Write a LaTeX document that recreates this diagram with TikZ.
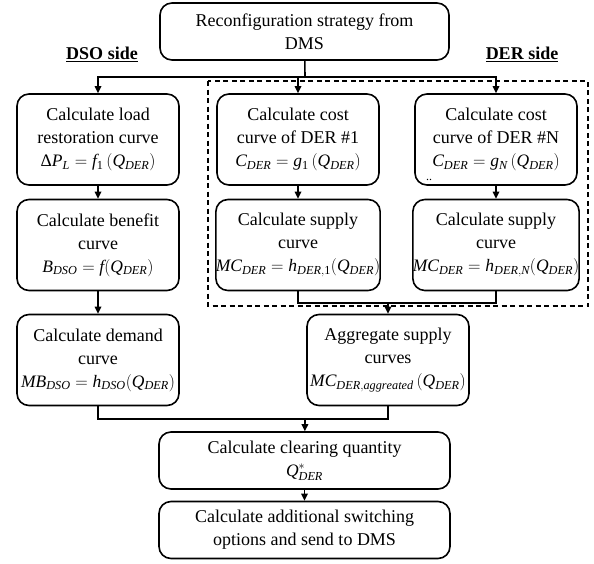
\documentclass[tikz,border=0pt]{standalone}
\usepackage{mathspec}
\setmainfont{Liberation Serif}
\setmathsfont(Digits,Latin,Greek){Liberation Serif}
\usetikzlibrary{arrows.meta}
\newcommand{\mymath}[1]{{\fontsize{17.5}{23}\selectfont$#1$}}
\begin{document}
\begin{tikzpicture}[x=1pt,y=-1pt,
  box/.style={draw, line width=1.6pt, rounded corners=12pt, align=center, inner sep=0pt,
    font=\fontsize{18}{23}\selectfont},
  sbox/.style={box, minimum width=162pt, minimum height=91pt},
  wbox/.style={box, minimum width=291pt, minimum height=57pt},
  conn/.style={line width=1.6pt},
  arr/.style={conn, -{Triangle[length=7pt,width=6.5pt]}},
  side/.style={font=\fontsize{18}{20}\selectfont\bfseries}]
\useasboundingbox (0,0) rectangle (594,563);
\node[box, minimum width=289pt, minimum height=57pt] (top) at (304.5,31.5) {Reconfiguration strategy from\\DMS};
\node[side] (dso) at (102,54) {\underline{DSO side}};
\node[side] (der) at (522,54) {\underline{DER side}};
\draw[line width=1.1pt, dash pattern=on 5pt off 3.5pt] (208,81) rectangle (588,306);
\node[sbox] (L1) at (98,139.5) {Calculate load\\restoration curve\\\mymath{\Delta P_L = f_1\left(Q_{DER}\right)}};
\node[sbox] (M1) at (298,139.5) {Calculate cost\\curve of DER \#1\\\mymath{C_{DER} = g_1\left(Q_{DER}\right)}};
\node[sbox] (R1) at (496,139.5) {Calculate cost\\curve of DER \#N\\\mymath{C_{DER} = g_N\left(Q_{DER}\right)}};
\node[font=\fontsize{12}{12}\selectfont, inner sep=0pt] (dots) at (429,180) {..};
\node[sbox] (L2) at (98,245) {Calculate benefit\\curve\\\mymath{B_{DSO} = f(Q_{DER})}};
\node[sbox] (M2) at (298,245) {Calculate supply\\curve\\\mymath{MC_{DER} = h_{DER,1}(Q_{DER})}};
\node[sbox] (R2) at (496,245) {Calculate supply\\curve\\\mymath{MC_{DER} = h_{DER,N}(Q_{DER})}};
\node[sbox] (L3) at (98,360) {Calculate demand\\curve\\\mymath{MB_{DSO} = h_{DSO}(Q_{DER})}};
\node[sbox] (A) at (388,360) {Aggregate supply\\curves\\\mymath{MC_{DER,aggreated}\left(Q_{DER}\right)}};
\node[wbox] (C) at (304.5,460.5) {Calculate clearing quantity\\\mymath{Q^*_{DER}}};
\node[wbox] (S) at (304.5,530) {Calculate additional switching\\options and send to DMS};
\coordinate (j1) at (305,77);
\coordinate (j2) at (388,303);
\coordinate (j3) at (305,419);
\draw[conn] (top) -- (j1);
\draw[arr] (j1) -| (L1);
\draw[arr] (j1) -| (M1);
\draw[arr] (j1) -| (R1);
\draw[arr] (L1) -- (L2);
\draw[arr] (M1) -- (M2);
\draw[arr] (R1) -- (R2);
\draw[arr] (L2) -- (L3);
\draw[conn] (M2.south) |- (j2);
\draw[conn] (R2.south) |- (j2);
\draw[arr] (j2) -- (A);
\draw[conn] (L3.south) |- (j3);
\draw[conn] (A.south) |- (j3);
\draw[arr] (j3) -- (C);
\draw[arr] (C) -- (S);
\end{tikzpicture}
\end{document}
